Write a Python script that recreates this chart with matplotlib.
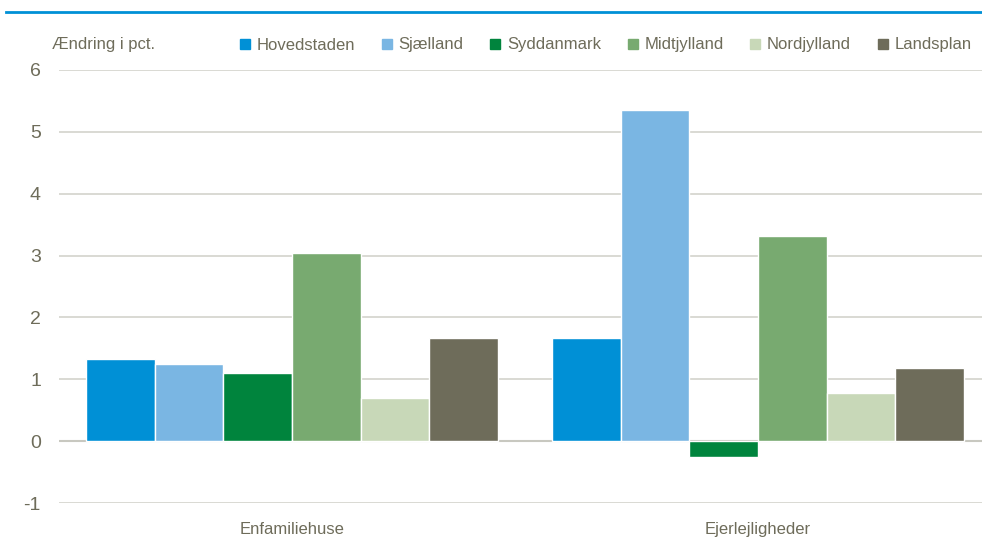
import matplotlib.pyplot as plt
import numpy as np
from matplotlib.lines import Line2D

plt.rcParams['font.family'] = ['Liberation Sans', 'DejaVu Sans']
plt.rcParams['axes.unicode_minus'] = False

categories = ["Enfamiliehuse", "Ejerlejligheder"]
regions = ["Hovedstaden", "Sjælland", "Syddanmark", "Midtjylland", "Nordjylland", "Landsplan"]
hovedstaden = [1.32, 1.66]
sjaelland = [1.24, 5.36]
syddanmark = [1.10, -0.26]
midtjylland = [3.04, 3.31]
nordjylland = [0.69, 0.78]
landsplan = [1.66, 1.18]

values = [hovedstaden, sjaelland, syddanmark, midtjylland, nordjylland, landsplan]
colors = ["#0090D6", "#7AB6E3", "#00843D", "#78AA70", "#C8D8B8", "#6E6C5A"]
textcol = "#6E6C5A"

fig = plt.figure(figsize=(9.82, 5.43), dpi=100)
ax = fig.add_axes([59/982, 40/543, 932/982, 433/543])

x = np.arange(len(categories))
w = 0.147
for i, (vals, c) in enumerate(zip(values, colors)):
    ax.bar(x + (i - 2.5) * w, vals, w, color=c, edgecolor="white", linewidth=1.0,
           label=regions[i], zorder=3)

ax.set_ylim(-1, 6)
ax.set_xlim(-0.5, 1.5)
ax.set_yticks(range(-1, 7))
ax.yaxis.grid(True, color="#D3D3CC", linewidth=1.2, zorder=0)
ax.axhline(0, color="#C8C8C0", linewidth=1.5, zorder=2)
for s in ax.spines.values():
    s.set_visible(False)
ax.tick_params(axis="y", length=0, pad=13, labelsize=14, labelcolor=textcol)
ax.tick_params(axis="x", length=0, pad=14, labelsize=12, labelcolor=textcol)
ax.set_xticks(x)
ax.set_xticklabels(categories)

fig.text(52/982, 1 - 45/543, "Ændring i pct.", color=textcol, fontsize=12, va="center", ha="left")

handles = [Line2D([], [], marker="s", linestyle="none", markersize=7, color=c) for c in colors]
fig.legend(handles, regions, loc="center right", bbox_to_anchor=(978/982, 1 - 45/543),
           ncol=6, frameon=False, fontsize=12, handlelength=0.6, handletextpad=0.4,
           columnspacing=1.6, labelcolor=textcol, borderaxespad=0)

# top rule
fig.add_artist(Line2D([6/982, 1.0], [1 - 12/543, 1 - 12/543], color="#0090D6", linewidth=2))

fig.savefig("out.png", dpi=100)
